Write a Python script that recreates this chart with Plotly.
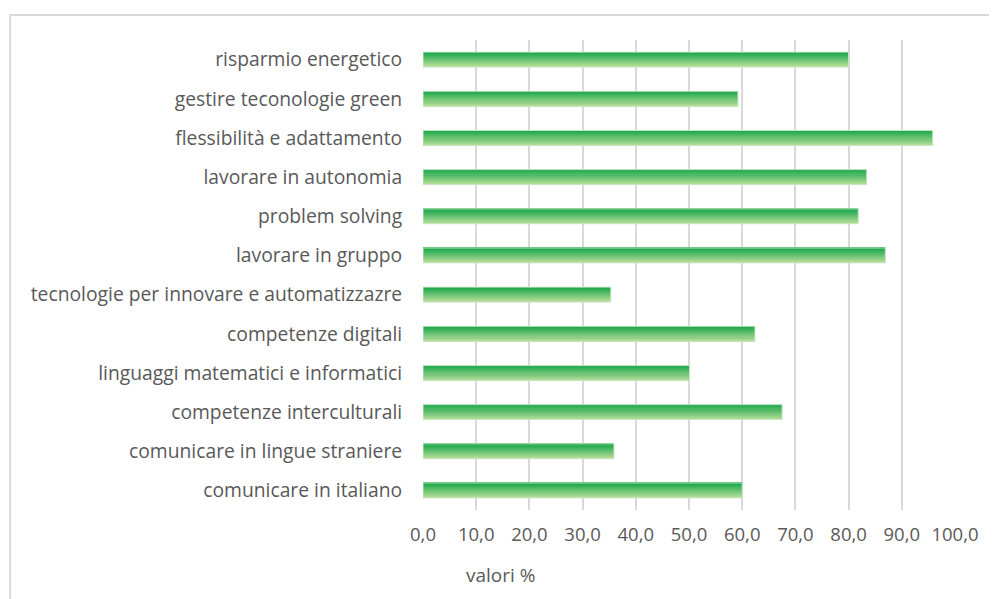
import plotly.graph_objects as go

categories = [
    "risparmio energetico",
    "gestire teconologie green",
    "flessibilità e adattamento",
    "lavorare in autonomia",
    "problem solving",
    "lavorare in gruppo",
    "tecnologie per innovare e automatizzazre",
    "competenze digitali",
    "linguaggi matematici e informatici",
    "competenze interculturali",
    "comunicare in lingue straniere",
    "comunicare in italiano",
]
values = [80.0, 59.2, 95.8, 83.4, 81.8, 86.9, 35.3, 62.4, 50.1, 67.5, 35.9, 60.0]
x_ticks = [0, 10, 20, 30, 40, 50, 60, 70, 80, 90, 100]

BAR_W = 0.38
N = 14
dark = (22, 166, 74)
light = (174, 218, 148)

fig = go.Figure()
for i in range(N):
    t = i / (N - 1)
    c = tuple(round(dark[k] + (light[k] - dark[k]) * t) for k in range(3))
    fig.add_trace(go.Bar(
        x=values, y=categories, orientation="h",
        width=BAR_W / N * 1.03, offset=-BAR_W / 2 + i * BAR_W / N,
        marker=dict(color="rgb(%d,%d,%d)" % c, line=dict(width=0)),
        hoverinfo="skip" if i else "x+y", showlegend=False,
    ))
fig.add_trace(go.Bar(
    x=values, y=categories, orientation="h",
    width=BAR_W, offset=-BAR_W / 2,
    marker=dict(color="rgba(0,0,0,0)", line=dict(width=1, color="#c8e8c2")),
    hoverinfo="skip", showlegend=False,
))

fig.update_layout(
    width=997, height=599,
    margin=dict(l=415, r=50, t=32, b=97),
    paper_bgcolor="white", plot_bgcolor="white",
    barmode="overlay",
    separators=",.",
    font=dict(family="Open Sans, Lato, sans-serif", size=19.3, color="#595959"),
    xaxis=dict(
        range=[0, 100], tickvals=x_ticks, tickformat=".1f",
        showgrid=True, gridcolor="#d9d9d9", gridwidth=1.5,
        zeroline=False, showline=False,
        ticks="outside", ticklen=8, tickcolor="rgba(0,0,0,0)",
        tickfont=dict(size=18.5),
    ),
    yaxis=dict(
        autorange="reversed", showgrid=False, zeroline=False, showline=False,
        ticks="outside", ticklen=16, tickcolor="rgba(0,0,0,0)",
    ),
    shapes=[dict(
        type="rect", xref="paper", yref="paper",
        x0=-0.776, x1=1.3, y0=-0.4, y1=1.053,
        line=dict(color="#d9d9d9", width=2), layer="below",
    )],
    annotations=[dict(
        text="valori %", xref="paper", yref="paper",
        x=0.145, y=-0.138, xanchor="center", yanchor="middle", showarrow=False,
        font=dict(size=19, color="#595959"),
    )],
)

fig.write_html("out.html")
